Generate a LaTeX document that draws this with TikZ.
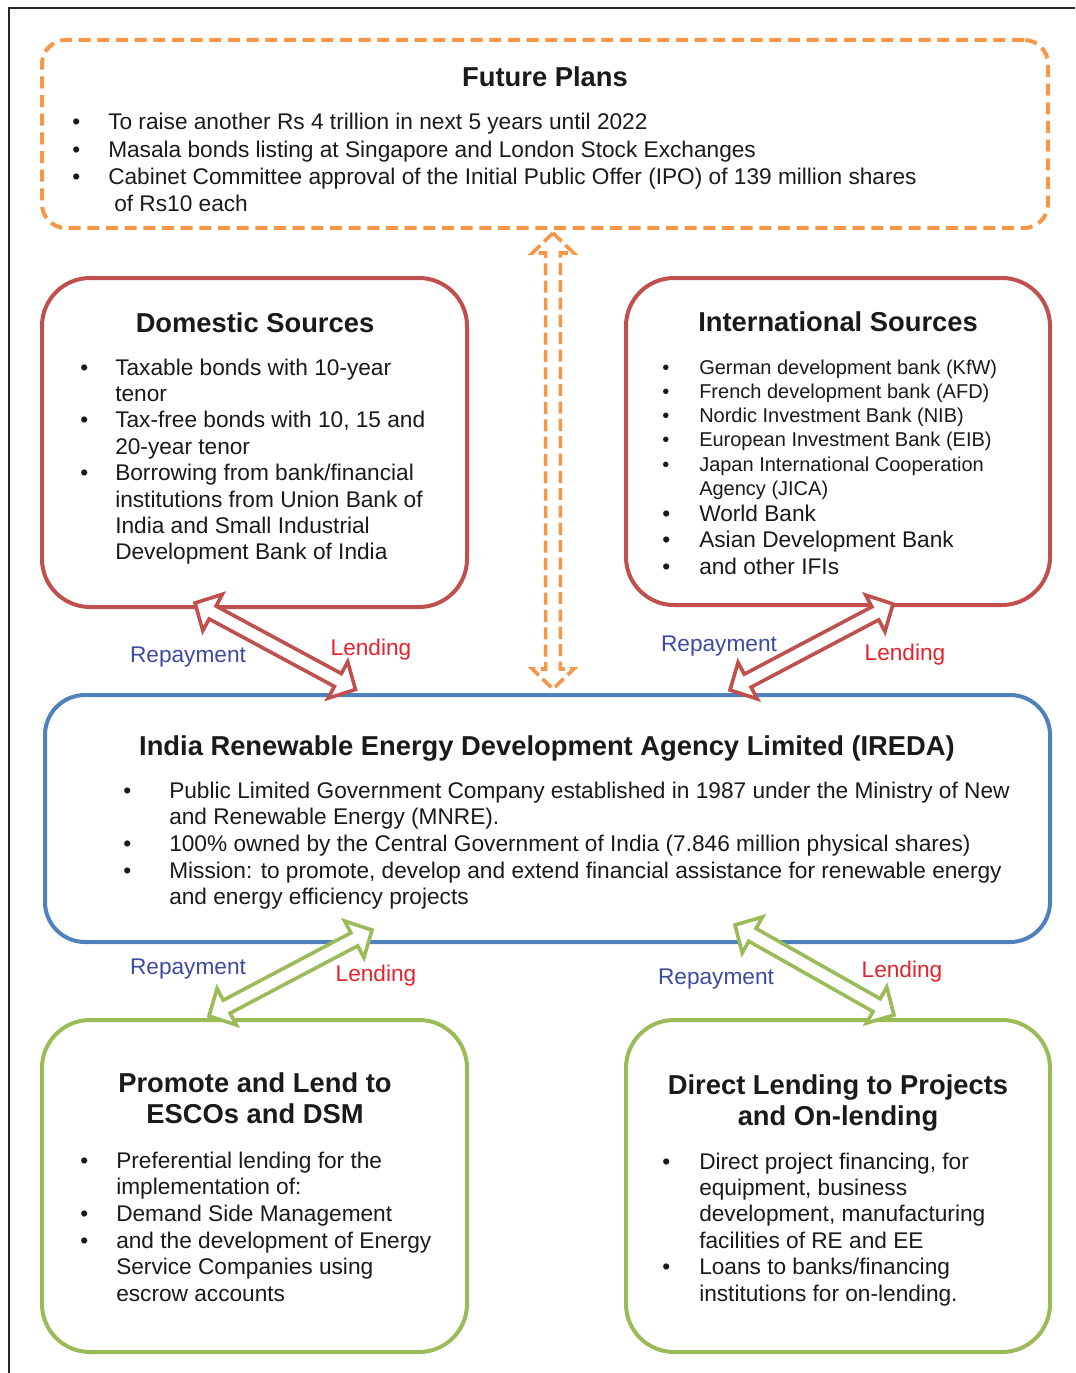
\documentclass[tikz,border=0pt]{standalone}
\usepackage{fontspec}
\setmainfont{Liberation Sans}
\usetikzlibrary{calc}

\definecolor{planorange}{HTML}{F79646}
\definecolor{srcred}{HTML}{C0504D}
\definecolor{iredablue}{HTML}{4F81BD}
\definecolor{usegreen}{HTML}{9BBB59}
\definecolor{paytext}{HTML}{3D4AA0}
\definecolor{lendtext}{HTML}{E3232B}
\definecolor{bodytext}{HTML}{1A1A1A}

% bullet list: width of the bullet column, rows
\newcommand{\blist}[2]{\begin{tabular}[t]{@{}p{#1}@{}l@{}}#2\end{tabular}}
\newcommand{\btitle}[1]{\begin{tabular}[t]{@{}c@{}}#1\end{tabular}}
% hollow two-headed arrow between two coordinates
\newcommand{\twoway}[3][]{%
  \draw[twoway, #1] (#2)
  -- ($ ($(#2)!15pt!(#3)$) !15.5pt!90:(#3) $)
  -- ($ ($(#2)!15pt!(#3)$) !5.5pt!90:(#3) $)
  -- ($ ($(#3)!15pt!(#2)$) !5.5pt!-90:(#2) $)
  -- ($ ($(#3)!15pt!(#2)$) !15.5pt!-90:(#2) $)
  -- (#3)
  -- ($ ($(#3)!15pt!(#2)$) !15.5pt!90:(#2) $)
  -- ($ ($(#3)!15pt!(#2)$) !5.5pt!90:(#2) $)
  -- ($ ($(#2)!15pt!(#3)$) !5.5pt!-90:(#3) $)
  -- ($ ($(#2)!15pt!(#3)$) !15.5pt!-90:(#3) $)
  -- cycle;}

\tikzset{
    box/.style={draw=#1, line width=3pt, rounded corners=36pt, fill=white, inner sep=0pt},
    plansbox/.style={draw=planorange, line width=3pt, dash pattern=on 9pt off 5pt,
        rounded corners=18pt, inner sep=0pt},
    twoway/.style={line width=2.7pt, fill=white, line join=miter},
    ttl/.style={font=\fontsize{20.5}{23.6}\selectfont\bfseries, text=bodytext, anchor=base, inner sep=0pt},
    lst/.style={font=\fontsize{17}{19.8}\selectfont, text=bodytext, anchor=base west, inner sep=0pt},
    paylbl/.style={font=\fontsize{17}{20}\selectfont, text=paytext},
    lendlbl/.style={font=\fontsize{17}{20}\selectfont, text=lendtext},
}

\begin{document}
\begin{tikzpicture}[x=0.75pt, y=-0.75pt]
\useasboundingbox (0,0) rectangle (1075,1373);
\draw[black!85, line width=0.9pt] (9,1373) -- (9,8) -- (1075,8);

% boxes
\node[plansbox, minimum width=754.5pt, minimum height=141pt] (plans) at (545,134) {};
\node[box=srcred, minimum width=318.75pt, minimum height=246.75pt] (dom) at (254.5,442.5) {};
\node[box=srcred, minimum width=318pt, minimum height=245.25pt] (intl) at (838,441.5) {};
\node[box=iredablue, minimum width=753.75pt, minimum height=185.25pt, rounded corners=30pt] (ireda) at (547.5,818.5) {};
\node[box=usegreen, minimum width=318.75pt, minimum height=249pt] (esco) at (254.5,1186) {};
\node[box=usegreen, minimum width=318pt, minimum height=249pt] (direct) at (838,1186) {};

% texts
\node[ttl] (planstitle) at (545,87) {Future Plans};
\node[lst, font=\fontsize{17}{20.5}\selectfont] (planslist) at (72,130) {\blist{27pt}{%
\textbullet & To raise another Rs 4 trillion in next 5 years until 2022\\
\textbullet & Masala bonds listing at Singapore and London Stock Exchanges\\
\textbullet & Cabinet Committee approval of the Initial Public Offer (IPO) of 139 million shares\\
 & \hspace*{4.5pt}of Rs10 each}};

\node[ttl] (domtitle) at (255,332) {Domestic Sources};
\node[lst] (domlist) at (80,375) {\blist{26.25pt}{%
\textbullet & Taxable bonds with 10-year\\
 & tenor\\
\textbullet & Tax-free bonds with 10, 15 and\\
 & 20-year tenor\\
\textbullet & Borrowing from bank/financial\\
 & institutions from Union Bank of\\
 & India and Small Industrial\\
 & Development Bank of India}};

\node[ttl] (intltitle) at (838,331) {International Sources};
\node[lst, font=\fontsize{15}{18.2}\selectfont] (intllist) at (662,374) {\blist{27.75pt}{%
\textbullet & German development bank (KfW)\\
\textbullet & French development bank (AFD)\\
\textbullet & Nordic Investment Bank (NIB)\\
\textbullet & European Investment Bank (EIB)\\
\textbullet & Japan International Cooperation\\
 & Agency (JICA)}};
\node[lst, font=\fontsize{17}{19.9}\selectfont] (ifilist) at (662,521) {\blist{27.75pt}{%
\textbullet & World Bank\\
\textbullet & Asian Development Bank\\
\textbullet & and other IFIs}};

\node[ttl] (iredatitle) at (547,755) {India Renewable Energy Development Agency Limited (IREDA)};
\node[lst, font=\fontsize{17}{20}\selectfont] (iredalist) at (123,798) {\blist{34.5pt}{%
\textbullet & Public Limited Government Company established in 1987 under the Ministry of New\\
 & and Renewable Energy (MNRE).\\
\textbullet & 100\% owned by the Central Government of India (7.846 million physical shares)\\
\textbullet & Mission: to promote, develop and extend financial assistance for renewable energy\\
 & and energy efficiency projects}};

\node[ttl] (escotitle) at (255,1092) {\btitle{Promote and Lend to\\ ESCOs and DSM}};
\node[lst, font=\fontsize{17}{20}\selectfont] (escolist) at (80,1168) {\blist{27pt}{%
\textbullet & Preferential lending for the\\
 & implementation of:\\
\textbullet & Demand Side Management\\
\textbullet & and the development of Energy\\
 & Service Companies using\\
 & escrow accounts}};

\node[ttl] (directtitle) at (838,1094) {\btitle{Direct Lending to Projects\\ and On-lending}};
\node[lst] (directlist) at (662,1169) {\blist{27.75pt}{%
\textbullet & Direct project financing, for\\
 & equipment, business\\
 & development, manufacturing\\
 & facilities of RE and EE\\
\textbullet & Loans to banks/financing\\
 & institutions for on-lending.}};

% connectors
\coordinate (planA) at ($(plans.south)+(8,3)$);
\coordinate (planB) at ($(ireda.north)+(5.5,-4)$);
\coordinate (domA) at ($(dom.south)+(-59.5,-6)$);
\coordinate (domB) at ($(ireda.north)+(-192,-3.5)$);
\coordinate (intlA) at ($(intl.south)+(55,-3)$);
\coordinate (intlB) at ($(ireda.north)+(182.5,-3)$);
\coordinate (escoA) at ($(ireda.south)+(-175.5,-14)$);
\coordinate (escoB) at ($(esco.north)+(-45.5,-2)$);
\coordinate (directA) at ($(ireda.south)+(187.5,-19)$);
\coordinate (directB) at ($(direct.north)+(56,-3)$);

\twoway[draw=planorange, dash pattern=on 9pt off 4pt]{planA}{planB}
\twoway[draw=srcred]{domA}{domB}
\twoway[draw=srcred]{intlA}{intlB}
\twoway[draw=usegreen]{escoA}{escoB}
\twoway[draw=usegreen]{directA}{directB}

% labels
\node[paylbl] (paydom) at (188,657) {Repayment};
\node[lendlbl] (lenddom) at (371,650) {Lending};
\node[paylbl] (payintl) at (719,646) {Repayment};
\node[lendlbl] (lendintl) at (905,655) {Lending};
\node[paylbl] (payesco) at (188,969) {Repayment};
\node[lendlbl] (lendesco) at (376,976) {Lending};
\node[paylbl] (paydirect) at (716,979) {Repayment};
\node[lendlbl] (lenddirect) at (902,972) {Lending};
\end{tikzpicture}
\end{document}
